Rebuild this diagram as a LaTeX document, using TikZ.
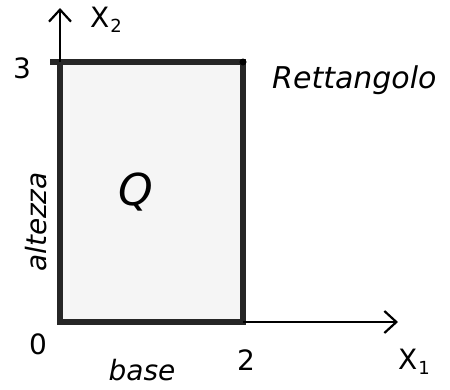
\documentclass[tikz,border=0pt]{standalone}
\usepackage{fontspec}
\setmainfont{DejaVu Sans}
\usetikzlibrary{arrows.meta}
\newcommand{\subsc}[1]{\kern1pt\raisebox{-5pt}{\fontsize{18}{18}\selectfont #1}}
\begin{document}
\begin{tikzpicture}[x=1pt,y=-1pt,
  axis/.style={line width=2.2pt, black, -{Straight Barb[length=12pt,width=22pt,line width=2.2pt]}},
  region/.style={line width=6.5pt, draw=black!85, fill=black!4, line join=miter},
  lbl/.style={inner sep=0pt, font=\fontsize{28}{28}\selectfont}]
\useasboundingbox (0,0) rectangle (450,389);
\coordinate (O) at (60,322);
\coordinate (A) at (243,322);
\coordinate (B) at (243,62);
\coordinate (C) at (60,62);
\coordinate (Xend) at (398,322);
\coordinate (Yend) at (60,8);
\coordinate (T3) at (50,62);
\draw[region] (O) -- (A) -- (B) -- (C) -- cycle;
\draw[line width=6.5pt, black!85] (T3) -- (C);
\fill[black] (B) circle (3.5pt);
\draw[axis] (A) -- (Xend);
\draw[axis] (C) -- (Yend);
\node[lbl] (x2) at (106,20) {X\subsc{2}};
\node[lbl] (x1) at (414,362) {X\subsc{1}};
\node[lbl] (n3) at (22,68) {3};
\node[lbl] (n0) at (38,344) {0};
\node[lbl] (n2) at (246,360) {2};
\node[inner sep=0pt, font=\fontsize{44}{44}\selectfont] (Q) at (136,192) {\textit{Q}};
\node[inner sep=0pt, anchor=west, font=\fontsize{30}{30}\selectfont] (rett) at (272,80) {\textit{Rettangolo}};
\node[lbl, rotate=90] (alt) at (36,222) {\textit{altezza}};
\node[lbl] (base) at (142,370) {\textit{base}};
\end{tikzpicture}
\end{document}
